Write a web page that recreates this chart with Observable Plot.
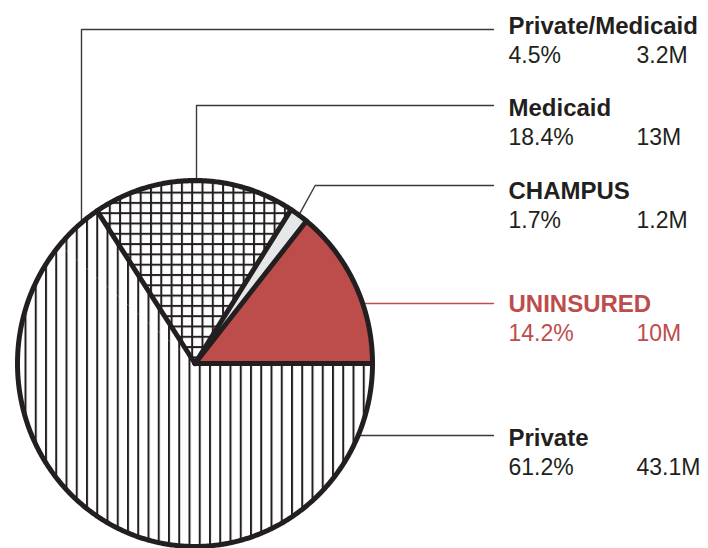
<!DOCTYPE html>
<html><head><meta charset="utf-8">
<script src="https://cdn.jsdelivr.net/npm/d3@7"></script>
<script src="https://cdn.jsdelivr.net/npm/@observablehq/plot@0.6"></script>
<style>body{margin:0;background:#fff} svg{display:block}</style>
</head><body><div id="chart"></div>
<script>
// ---- data ----
const categories = ["UNINSURED", "CHAMPUS", "Medicaid", "Private/Medicaid", "Private"];
const percents = [14.2, 1.7, 18.4, 4.5, 61.2];
const millions = [10, 1.2, 13, 3.2, 43.1];
const percentLabels = ["14.2%", "1.7%", "18.4%", "4.5%", "61.2%"];
const millionLabels = ["10M", "1.2M", "13M", "3.2M", "43.1M"];

// ---- layout & style ----
const W = 708, H = 548;
const pie = {cx: 194.5, cy: 363, rx: 177.5, ry: 183, stroke: 5};
const ink = "#231f20", red = "#bd4d4b";
const sliceFill = [red, "#e6e7e8", "url(#cross)", "url(#vlines)", "url(#vlines)"];
const sliceStartEdge = [true, true, true, true, false];
const textColor = [red, ink, ink, ink, ink];
const leaderColor = [red, "#3a3a3a", "#3a3a3a", "#3a3a3a", "#3a3a3a"];
const labelX = 508, valueX2 = 636, valueGap = 29.5;
const nameBaseline = [311, 198, 115, 33, 445];
const leaderY = [303, 185, 105, 29, 435];
const leaderType = ["horizontal", "diagonal", "vertical", "vertical", "horizontal"];
const leaderVX = [null, null, 196, 81, null];
const leaderEndX = 493;
const font = "'Liberation Sans', Arial, sans-serif";

// ---- geometry from data ----
const total = d3.sum(percents);
let acc = 0;
const slices = categories.map((c, i) => {
  const a0 = acc / total * 2 * Math.PI; acc += percents[i];
  const a1 = acc / total * 2 * Math.PI;
  return {c, i, a0, a1};
});
const pt = a => ({x: pie.cx + pie.rx * Math.cos(a), y: pie.cy - pie.ry * Math.sin(a)});
function polygon(s) {
  const pts = [{x: pie.cx, y: pie.cy}];
  const n = Math.max(2, Math.ceil((s.a1 - s.a0) / (Math.PI / 360)));
  for (let j = 0; j <= n; j++) pts.push(pt(s.a0 + (s.a1 - s.a0) * j / n));
  pts.push({x: pie.cx, y: pie.cy});
  return pts;
}
const outline = d3.range(0, 721).map(j => pt(j / 720 * 2 * Math.PI));
const edges = slices.filter((s, i) => sliceStartEdge[i]).map(s => ({x1: pie.cx, y1: pie.cy, ...pt(s.a0)}));

const leaders = [];
slices.forEach((s, i) => {
  const ly = leaderY[i];
  let pts;
  if (leaderType[i] === "horizontal") {
    const t = (pie.cy - ly) / pie.ry;
    const x0 = pie.cx + pie.rx * Math.sqrt(1 - t * t);
    pts = [{x: x0, y: ly}, {x: leaderEndX, y: ly}];
  } else if (leaderType[i] === "vertical") {
    const vx = leaderVX[i];
    const t = (vx - pie.cx) / pie.rx;
    const y0 = pie.cy - pie.ry * Math.sqrt(1 - t * t);
    pts = [{x: vx, y: y0}, {x: vx, y: ly}, {x: leaderEndX, y: ly}];
  } else {
    const a = pt((s.a0 + s.a1) / 2);
    pts = [a, {x: a.x + (a.y - ly) * 0.55, y: ly}, {x: leaderEndX, y: ly}];
  }
  pts.forEach(p => leaders.push({...p, k: i}));
});

const labels = slices.map((s, i) => ({
  name: categories[i], pct: percentLabels[i], mil: millionLabels[i],
  y: nameBaseline[i], fill: textColor[i]
}));

function patternDefs() {
  const g = d3.create("svg:g");
  const defs = g.append("defs");
  const v = defs.append("pattern").attr("id", "vlines").attr("patternUnits", "userSpaceOnUse")
    .attr("x", 24).attr("y", 0).attr("width", 10.25).attr("height", 10);
  v.append("rect").attr("width", 10.25).attr("height", 10).attr("fill", "#fff");
  v.append("rect").attr("x", 0).attr("width", 2).attr("height", 10).attr("fill", ink);
  const c = defs.append("pattern").attr("id", "cross").attr("patternUnits", "userSpaceOnUse")
    .attr("x", 108.3).attr("y", 232.3).attr("width", 10.3).attr("height", 10.3);
  c.append("rect").attr("width", 10.3).attr("height", 10.3).attr("fill", "#fff");
  c.append("rect").attr("x", 0).attr("width", 2).attr("height", 10.3).attr("fill", ink);
  c.append("rect").attr("y", 0).attr("height", 2).attr("width", 10.3).attr("fill", ink);
  return g.node();
}

const chart = Plot.plot({
  width: W, height: H, margin: 0,
  x: {domain: [0, W], range: [0, W], axis: null},
  y: {domain: [0, H], range: [0, H], axis: null},
  style: {background: "#fff", overflow: "visible"},
  marks: [
    patternDefs,
    ...slices.map((s, i) => Plot.line(leaders.filter(d => d.k === i), {x: "x", y: "y", stroke: leaderColor[i], strokeWidth: 1.4})),
    ...slices.map((s, i) => Plot.line(polygon(s), {x: "x", y: "y", fill: sliceFill[i], stroke: "none"})),
    Plot.link(edges, {x1: "x1", y1: "y1", x2: "x", y2: "y", stroke: ink, strokeWidth: pie.stroke, strokeLinecap: "round"}),
    Plot.line(outline, {x: "x", y: "y", stroke: ink, strokeWidth: pie.stroke}),
    Plot.text(labels, {x: () => labelX, y: "y", text: "name", fill: "fill", textAnchor: "start", lineAnchor: "bottom", fontSize: 24, fontWeight: "bold", fontFamily: font}),
    Plot.text(labels, {x: () => labelX, y: d => d.y + valueGap, text: "pct", fill: "fill", textAnchor: "start", lineAnchor: "bottom", fontSize: 23, fontFamily: font}),
    Plot.text(labels, {x: () => valueX2, y: d => d.y + valueGap, text: "mil", fill: "fill", textAnchor: "start", lineAnchor: "bottom", fontSize: 23, fontFamily: font})
  ]
});
document.getElementById("chart").appendChild(chart);
</script>
</body></html>
